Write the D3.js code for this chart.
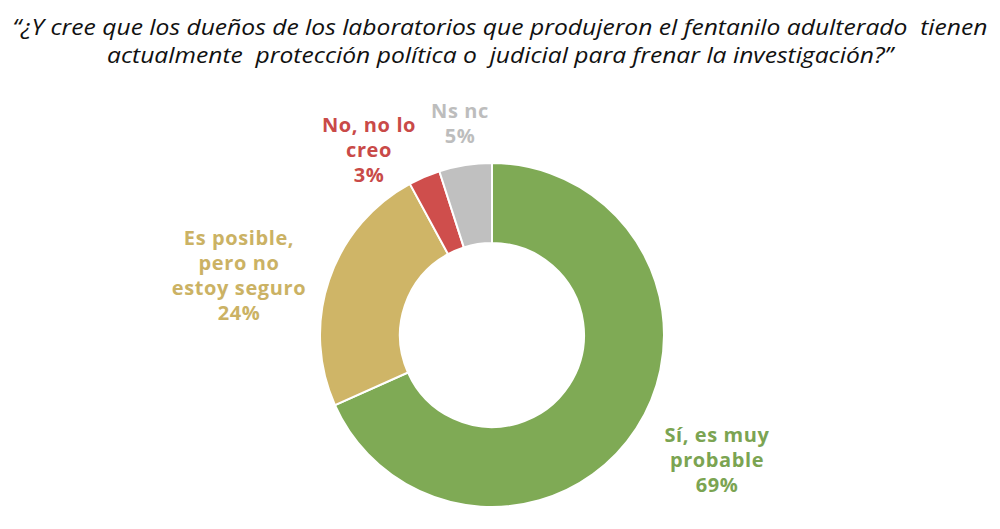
<!DOCTYPE html>
<html>
<head>
<meta charset="utf-8">
<script src="https://cdn.jsdelivr.net/npm/d3@7"></script>
<style>
  body { margin: 0; background: #fff; }
  svg { display: block; }
</style>
</head>
<body>
<div id="chart"></div>
<script>
// Survey answers, clockwise from 12 o'clock
const categories = ["Sí, es muy probable", "Es posible, pero no estoy seguro", "No, no lo creo", "Ns nc"];
const shares = [69, 24, 3, 5];
const labelLines = [
  ["Sí, es muy", "probable", "69%"],
  ["Es posible,", "pero no", "estoy seguro", "24%"],
  ["No, no lo", "creo", "3%"],
  ["Ns nc", "5%"]
];
const titleLines = [
  "“¿Y cree que los dueños de los laboratorios que produjeron el fentanilo adulterado  tienen",
  "actualmente  protección política o  judicial para frenar la investigación?”"
];

const width = 1000;
const height = 529;
const cx = 492, cy = 335;
const outerR = 172, innerR = 92;

const colors = ["#7FAA55", "#CFB567", "#CF4E4C", "#C0C0C0"];
const textColors = ["#7BA452", "#CBB264", "#C94A48", "#BDBDBD"];

// Label anchor (centre of first line baseline) per slice
const labelPos = [[717, 442], [239, 245], [369, 132], [460, 118]];
const lineStep = 25;

const svg = d3.select("#chart")
  .append("svg")
  .attr("width", width)
  .attr("height", height);

// Title (keep the double spaces of the original)
const titleWidths = [975, 786];
svg.selectAll(".title")
  .data(titleLines)
  .join("text")
  .attr("class", "title")
  .attr("x", width / 2)
  .attr("y", (d, i) => 35 + i * 28)
  .attr("text-anchor", "middle")
  .attr("textLength", (d, i) => titleWidths[i])
  .attr("lengthAdjust", "spacingAndGlyphs")
  .style("white-space", "pre")
  .style("font-family", "'Open Sans', sans-serif")
  .style("font-style", "italic")
  .style("font-size", "22px")
  .style("fill", "#111")
  .text(d => d);

// Donut
const pie = d3.pie().sort(null).value(d => d);
const arc = d3.arc().innerRadius(innerR).outerRadius(outerR);

const g = svg.append("g")
  .attr("transform", `translate(${cx}, ${cy})`);

g.selectAll(".slice")
  .data(pie(shares))
  .join("path")
  .attr("class", "slice")
  .attr("d", arc)
  .attr("fill", (d, i) => colors[i])
  .attr("stroke", "#fff")
  .attr("stroke-width", 2);

// Labels, one text per line
labelLines.forEach((lines, i) => {
  svg.selectAll(`.label-${i}`)
    .data(lines)
    .join("text")
    .attr("class", `label-${i}`)
    .attr("x", labelPos[i][0])
    .attr("y", (d, j) => labelPos[i][1] + j * lineStep)
    .attr("text-anchor", "middle")
    .style("font-family", "'Open Sans', sans-serif")
    .style("font-weight", 700)
    .style("font-size", "20px")
    .style("letter-spacing", "0.6px")
    .style("fill", textColors[i])
    .text(d => d);
});
</script>
</body>
</html>
